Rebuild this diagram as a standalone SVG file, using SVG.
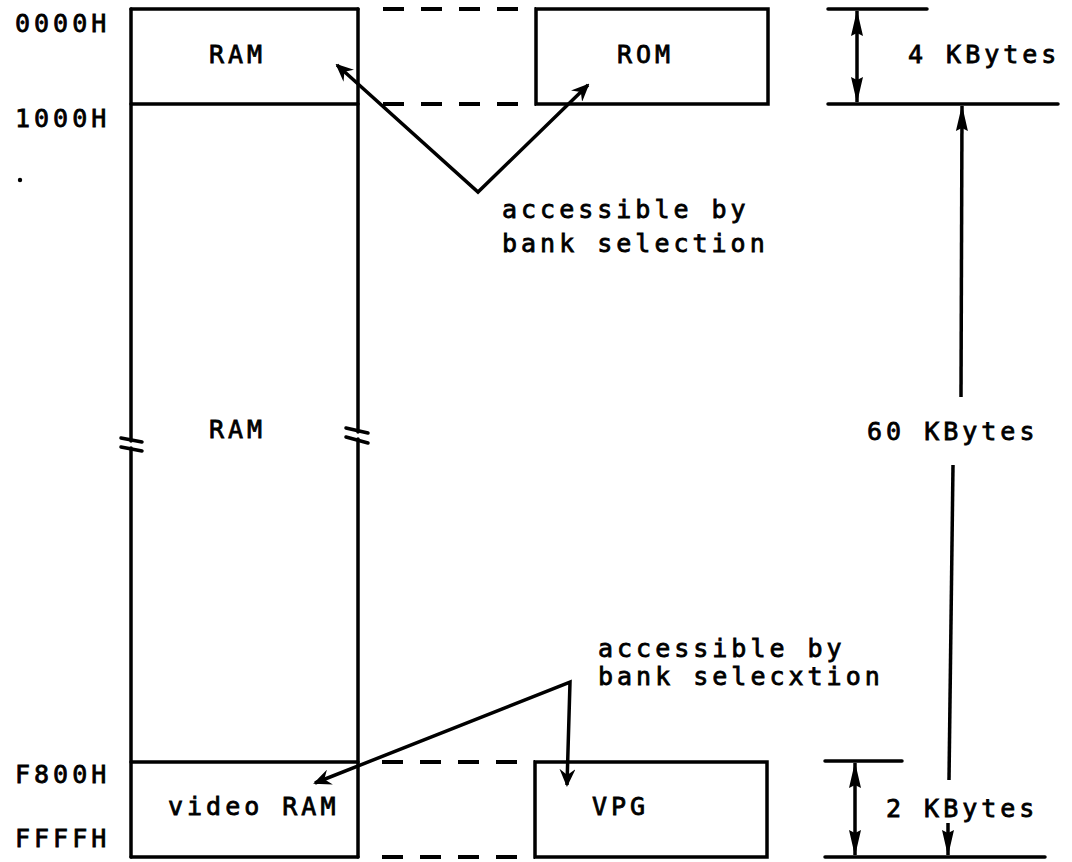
<svg xmlns="http://www.w3.org/2000/svg" width="1072" height="862" viewBox="0 0 1072 862">
<style>
  .ln { stroke:#000; stroke-width:3.5; fill:none; stroke-linecap:round; }
  .dash { stroke:#000; stroke-width:4; fill:none; stroke-dasharray:21 17; }
  .ar { stroke:#000; stroke-width:3.5; fill:none; stroke-linejoin:miter; }
  .t { font-family:"DejaVu Sans Mono","Liberation Mono",monospace; font-size:25px; letter-spacing:4px; fill:#000; stroke:#000; stroke-width:0.8; }
</style>
<defs>
  <marker id="acc" viewBox="0 0 18 16" refX="16" refY="8" markerWidth="18" markerHeight="16" markerUnits="userSpaceOnUse" orient="auto-start-reverse">
    <path d="M0,0 L18,8 L0,16 L6,8 Z" fill="#000"/>
  </marker>
  <marker id="dim" viewBox="0 0 26 14" refX="25" refY="7" markerWidth="26" markerHeight="14" markerUnits="userSpaceOnUse" orient="auto-start-reverse">
    <path d="M0,1 L26,7 L0,13 L3,7 Z" fill="#000"/>
  </marker>
</defs>
<rect width="1072" height="862" fill="#fff"/>

<g id="addresses">
  <text class="t" x="15" y="32">0000H</text>
  <text class="t" x="15" y="127">1000H</text>
  <text class="t" x="15" y="783">F800H</text>
  <text class="t" x="15" y="847">FFFFH</text>
  <circle cx="20" cy="180" r="2.2" fill="#000"/>
</g>

<g id="ram-main">
  <line class="ln" x1="131" y1="9" x2="358" y2="9"/>
  <line class="ln" x1="131" y1="104" x2="358" y2="104"/>
  <line class="ln" x1="131" y1="762" x2="358" y2="762"/>
  <line class="ln" x1="131" y1="857" x2="358" y2="857"/>
  <line class="ln" x1="131" y1="9" x2="131" y2="441"/>
  <line class="ln" x1="131" y1="448" x2="131" y2="857"/>
  <line class="ln" x1="358" y1="9" x2="358" y2="432"/>
  <line class="ln" x1="358" y1="439" x2="358" y2="857"/>
  <line class="ln" x1="121" y1="438" x2="142" y2="442"/>
  <line class="ln" x1="121" y1="447" x2="142" y2="451"/>
  <line class="ln" x1="346" y1="428" x2="368" y2="433"/>
  <line class="ln" x1="346" y1="437" x2="368" y2="443"/>
  <text class="t" x="209" y="438">RAM</text>
</g>

<g id="ram-bank">
  <text class="t" x="209" y="63">RAM</text>
</g>

<g id="video-ram">
  <text class="t" x="168" y="815">video RAM</text>
</g>

<g id="rom">
  <rect class="ln" x="536" y="9" width="232" height="95"/>
  <text class="t" x="617" y="63">ROM</text>
</g>

<g id="vpg">
  <rect class="ln" x="535" y="762" width="232" height="95"/>
  <text class="t" x="592" y="815">VPG</text>
</g>

<g id="dashes">
  <line class="dash" x1="383" y1="9" x2="536" y2="9"/>
  <line class="dash" x1="383" y1="104" x2="536" y2="104"/>
  <line class="dash" x1="382" y1="762" x2="535" y2="762"/>
  <line class="dash" x1="382" y1="857" x2="535" y2="857"/>
</g>

<g id="note-top">
  <text class="t" x="502" y="218">accessible by</text>
  <text class="t" x="502" y="252">bank selection</text>
</g>

<g id="note-bottom">
  <text class="t" x="598" y="657">accessible by</text>
  <text class="t" x="598" y="685">bank selecxtion</text>
</g>

<g id="dim-4k">
  <line class="ln" x1="828" y1="9" x2="927" y2="9" stroke-width="4"/>
  <line class="ln" x1="828" y1="104" x2="1058" y2="104" stroke-width="4"/>
  <text class="t" x="908" y="63">4 KBytes</text>
</g>

<g id="dim-60k">
  <text class="t" x="867" y="440">60 KBytes</text>
</g>

<g id="dim-2k">
  <line class="ln" x1="825" y1="761" x2="902" y2="761" stroke-width="4"/>
  <line class="ln" x1="825" y1="857" x2="1045" y2="857" stroke-width="4"/>
  <text class="t" x="886" y="817">2 KBytes</text>
</g>

<g id="connectors">
  <path class="ar" d="M337,65 L478,192 L588,85" marker-start="url(#acc)" marker-end="url(#acc)"/>
  <path class="ar" d="M315,783 L570,682 L567,785" marker-start="url(#acc)" marker-end="url(#acc)"/>
  <line class="ar" x1="857" y1="11" x2="857" y2="102" marker-start="url(#dim)" marker-end="url(#dim)"/>
  <line class="ar" x1="855" y1="763" x2="855" y2="855" marker-start="url(#dim)" marker-end="url(#dim)"/>
  <line class="ar" x1="961" y1="397" x2="962" y2="106" marker-end="url(#dim)"/>
  <line class="ar" x1="953" y1="465" x2="949" y2="780"/>
  <line class="ar" x1="948" y1="823" x2="948" y2="855" marker-end="url(#dim)"/>
</g>
</svg>
